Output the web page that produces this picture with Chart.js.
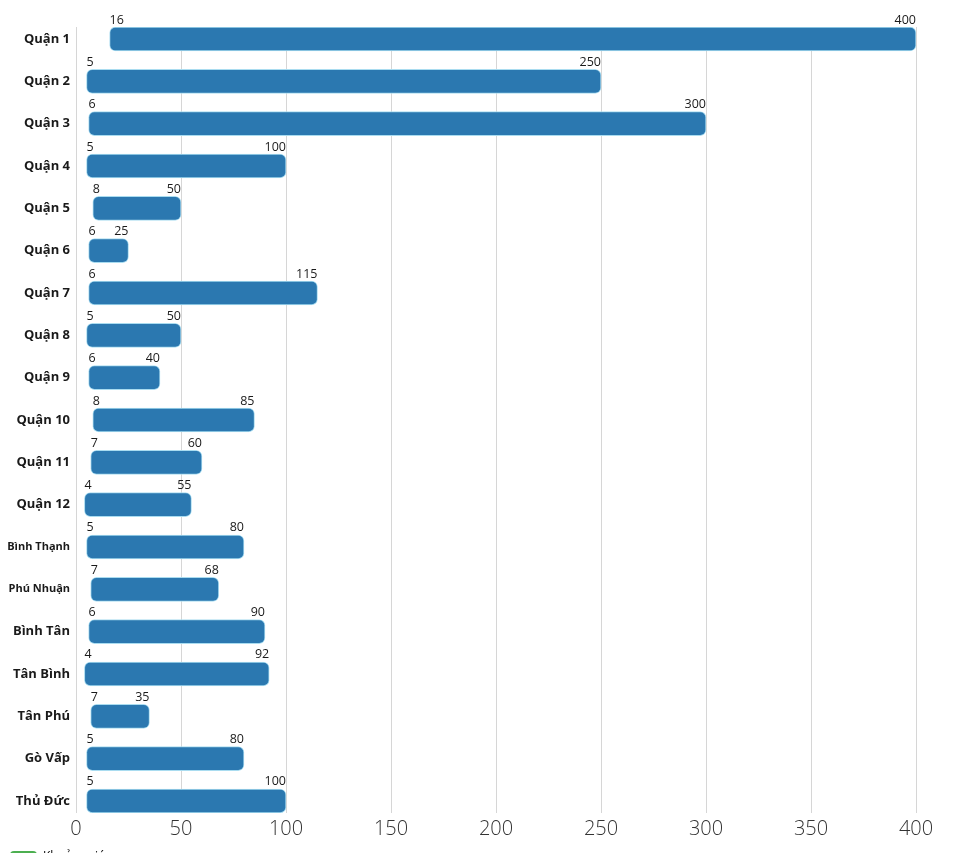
<!DOCTYPE html>
<html>
<head>
<meta charset="utf-8">
<script src="https://cdn.jsdelivr.net/npm/chart.js@4.4.1/dist/chart.umd.min.js"></script>
<style>
  html, body { margin: 0; padding: 0; background: #fff; overflow: hidden; }
  #wrap { position: relative; width: 960px; height: 873px; }
</style>
</head>
<body>
<div id="wrap"><canvas id="chart"></canvas></div>
<script>
// danh sách quận
const quan = ["Quận 1", "Quận 2", "Quận 3", "Quận 4", "Quận 5", "Quận 6", "Quận 7", "Quận 8", "Quận 9",
  "Quận 10", "Quận 11", "Quận 12", "Bình Thạnh", "Phú Nhuận", "Bình Tân", "Tân Bình", "Tân Phú", "Gò Vấp", "Thủ Đức"];
// giá thấp nhất / cao nhất
const giaMin = [16, 5, 6, 5, 8, 6, 6, 5, 6, 8, 7, 4, 5, 7, 6, 4, 7, 5, 5];
const giaMax = [400, 250, 300, 100, 50, 25, 115, 50, 40, 85, 60, 55, 80, 68, 90, 92, 35, 80, 100];
const xTicks = [0, 50, 100, 150, 200, 250, 300, 350, 400];

const FONT = "'Open Sans', 'Noto Sans', sans-serif";

// ve nhan gia o hai dau thanh
const nhanGia = {
  id: 'nhanGia',
  afterDatasetsDraw(chart) {
    const ctx = chart.ctx;
    const meta = chart.getDatasetMeta(0);
    ctx.save();
    ctx.font = "12.5px " + FONT;
    ctx.fillStyle = '#1a1a1a';
    ctx.textBaseline = 'alphabetic';
    meta.data.forEach((bar, i) => {
      const p = bar.getProps(['x', 'y', 'base', 'height'], true);
      const top = p.y - p.height / 2 - 3.5;
      ctx.textAlign = 'left';
      ctx.fillText(String(giaMin[i]), Math.min(p.base, p.x), top);
      ctx.textAlign = 'right';
      ctx.fillText(String(giaMax[i]), Math.max(p.base, p.x), top);
    });
    ctx.restore();
  }
};

const ctx = document.getElementById('chart').getContext('2d');
new Chart(ctx, {
  type: 'bar',
  data: {
    datasets: [{
      label: 'Khoảng giá',
      data: quan.map((q, i) => ({ x: [giaMin[i], giaMax[i]], y: i })),
      backgroundColor: '#2b78b0',
      borderColor: '#a9dcf0',
      borderWidth: 1,
      borderRadius: 6,
      borderSkipped: false,
      barThickness: 24
    }]
  },
  options: {
    indexAxis: 'y',
    responsive: true,
    maintainAspectRatio: false,
    animation: false,
    layout: { padding: { left: 0, right: 44, top: 27, bottom: 0 } },
    plugins: {
      legend: {
        display: true,
        position: 'bottom',
        align: 'start',
        labels: {
          boxWidth: 27,
          boxHeight: 12,
          useBorderRadius: true,
          borderRadius: 4,
          color: '#666',
          font: { size: 12, family: FONT },
          generateLabels: () => [{
            text: 'Khoảng giá',
            fillStyle: '#4caf50',
            strokeStyle: '#4caf50',
            lineWidth: 0,
            borderRadius: 4,
            datasetIndex: 0
          }]
        }
      },
      tooltip: { enabled: false }
    },
    scales: {
      x: {
        type: 'linear',
        min: 0,
        max: 400,
        afterBuildTicks: s => { s.ticks = xTicks.map(v => ({ value: v })); },
        afterFit: s => { s.height = 28; },
        ticks: {
          font: { size: 20, family: FONT, weight: '300' },
          color: '#333',
          padding: 4
        },
        grid: { color: '#d6d6d6', lineWidth: 1, drawTicks: false },
        border: { display: false }
      },
      y: {
        type: 'linear',
        reverse: true,
        offset: false,
        min: -0.2838,
        max: 18.2838,
        afterBuildTicks: s => { s.ticks = quan.map((q, i) => ({ value: i })); },
        afterFit: s => { s.width = 76; },
        ticks: {
          autoSkip: false,
          padding: 6,
          color: '#1a1a1a',
          callback: v => quan[v] ?? '',
          font: c => ({
            family: FONT,
            weight: 'bold',
            size: ((c.tick && quan[c.tick.value]) || '').length > 8 ? 11 : 13
          })
        },
        grid: { display: false, drawTicks: false, offset: false },
        border: { display: false }
      }
    }
  },
  plugins: [nhanGia]
});
</script>
</body>
</html>
